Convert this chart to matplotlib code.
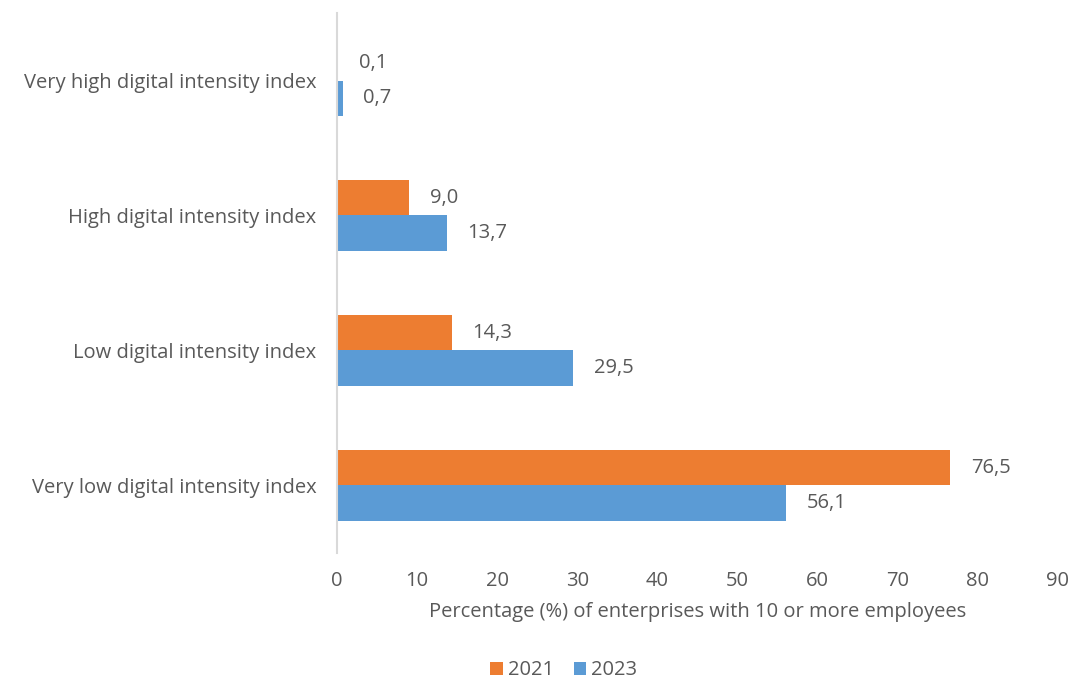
import matplotlib
matplotlib.use("Agg")
import matplotlib.pyplot as plt
import numpy as np

categories = [
    "Very low digital intensity index",
    "Low digital intensity index",
    "High digital intensity index",
    "Very high digital intensity index",
]
values_2021 = [76.5, 14.3, 9.0, 0.1]
values_2023 = [56.1, 29.5, 13.7, 0.7]
series_names = ["2021", "2023"]
xticks = [0, 10, 20, 30, 40, 50, 60, 70, 80, 90]

ORANGE = "#ED7D31"
BLUE = "#5B9BD5"
TEXT = "#595959"
FS = 14.5

plt.rcParams["font.family"] = ["Open Sans", "DejaVu Sans"]

fig = plt.figure(figsize=(10.78, 6.86), dpi=100)
ax = fig.add_axes([0.3126, 0.1940, 0.6688, 0.7870])

y = np.arange(len(categories))
h = 0.26
b1 = ax.barh(y + h / 2, values_2021, height=h, color=ORANGE, label=series_names[0])
b2 = ax.barh(y - h / 2, values_2023, height=h, color=BLUE, label=series_names[1])

def fmt(v):
    return f"{v:.1f}".replace(".", ",")

for bars, vals in ((b1, values_2021), (b2, values_2023)):
    for bar, v in zip(bars, vals):
        ax.annotate(fmt(v), (v, bar.get_y() + bar.get_height() / 2),
                    xytext=(15, 0), textcoords="offset points",
                    ha="left", va="center", fontsize=FS, color=TEXT)

ax.set_xlim(0, 90)
ax.set_ylim(-0.5, 3.5)
ax.set_xticks(xticks)
ax.set_xticklabels([str(t) for t in xticks], fontsize=FS, color=TEXT)
ax.set_yticks(y)
ax.set_yticklabels(categories, fontsize=FS, color=TEXT)
ax.tick_params(axis="both", length=0)
ax.tick_params(axis="x", pad=13)
ax.tick_params(axis="y", pad=15)

for s in ("top", "right", "bottom"):
    ax.spines[s].set_visible(False)
ax.spines["left"].set_color("#D9D9D9")
ax.spines["left"].set_linewidth(1.5)

ax.set_xlabel("Percentage (%) of enterprises with 10 or more employees",
              fontsize=FS, color=TEXT, labelpad=8)

leg = fig.legend(handles=[b1, b2], labels=series_names, loc="lower center",
                 bbox_to_anchor=(0.523, -0.018), ncol=2, frameon=False,
                 fontsize=FS, handlelength=0.6, handleheight=0.6,
                 handletextpad=0.25, columnspacing=1.0)
for t in leg.get_texts():
    t.set_color(TEXT)

fig.savefig("out.png", dpi=100)
